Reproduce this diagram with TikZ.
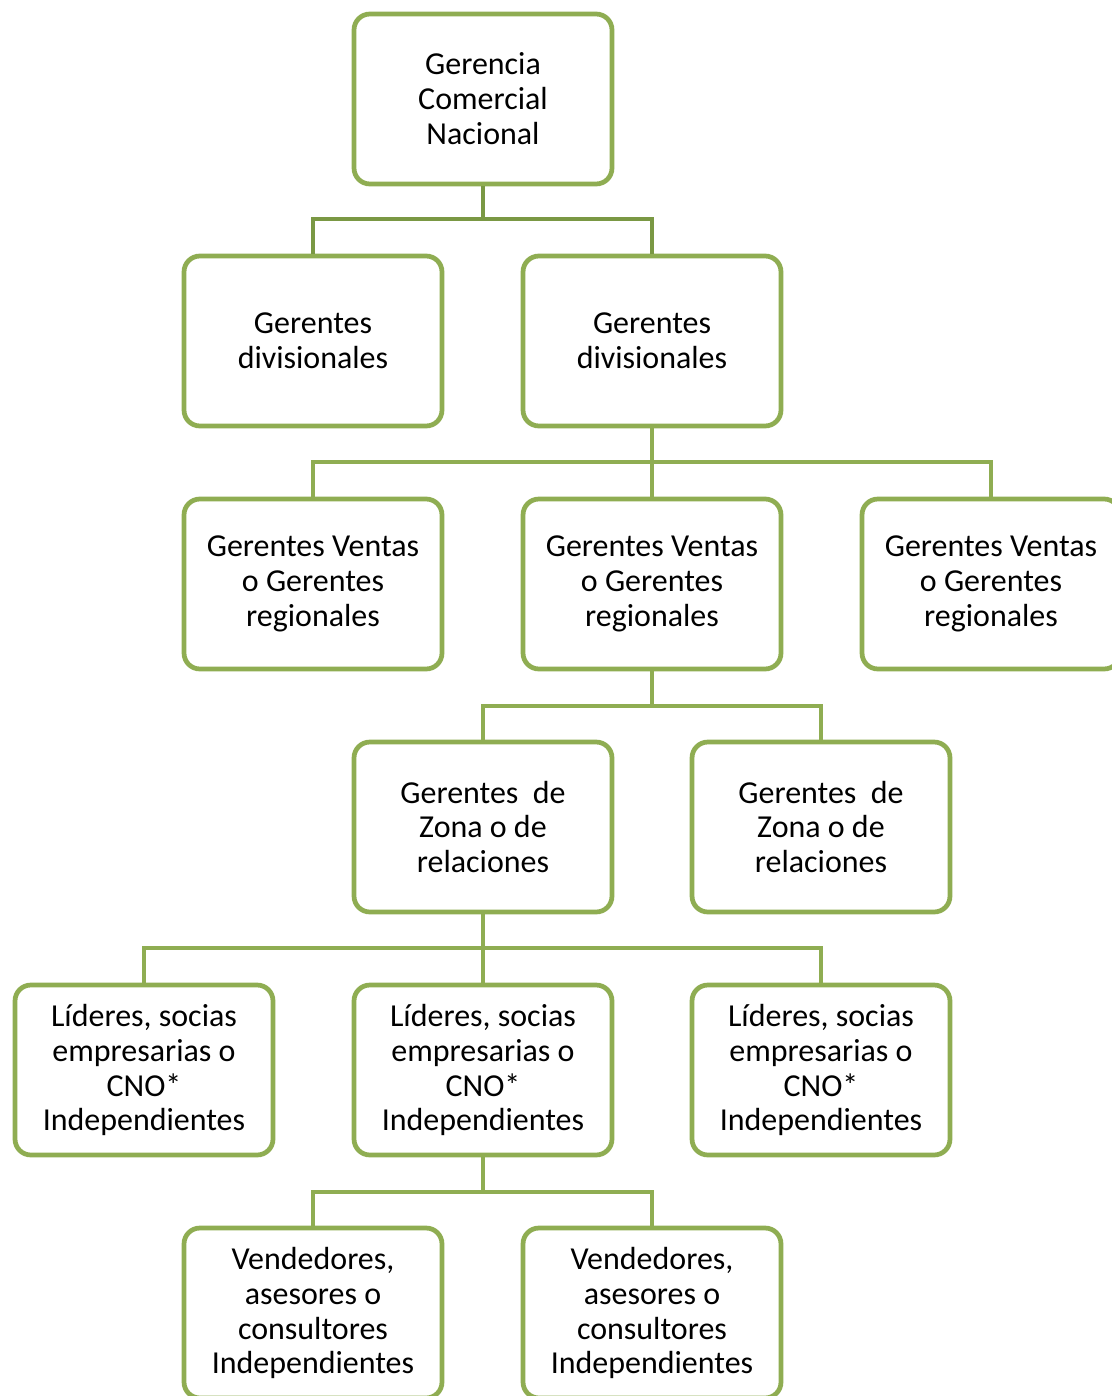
\documentclass[tikz,border=0pt]{standalone}
\usepackage{fontspec}
\setmainfont{Carlito}
\usetikzlibrary{positioning, calc}
\definecolor{orggreen}{RGB}{143,173,82}
\definecolor{orgdark}{RGB}{122,152,68}

\begin{document}
\begin{tikzpicture}[x=0.02cm, y=-0.02cm,
        box/.style={draw=orggreen, line width=2.7pt, fill=white, rounded corners=9pt,
                    minimum width=5.16cm, minimum height=3.4cm, inner sep=0pt,
                    align=center, font=\fontsize{18.2}{19.9}\selectfont},
        link/.style={draw=orggreen, line width=2.7pt},
        toplink/.style={draw=orgdark, line width=2.7pt}
      ]
        \useasboundingbox (0,0) rectangle (1112,1396);
        \node[box] (gcn) at (483,99) {Gerencia\\Comercial\\Nacional};
        \node[box] (div1) at (313,341) {Gerentes\\divisionales};
        \node[box] (div2) at (652,341) {Gerentes\\divisionales};
        \node[box] (reg1) at (313,584) {Gerentes Ventas\\o Gerentes\\regionales};
        \node[box] (reg2) at (652,584) {Gerentes Ventas\\o Gerentes\\regionales};
        \node[box] (reg3) at (991,584) {Gerentes Ventas\\o Gerentes\\regionales};
        \node[box] (zona1) at (483,827) {Gerentes\ \ de\\Zona o de\\relaciones};
        \node[box] (zona2) at (821,827) {Gerentes\ \ de\\Zona o de\\relaciones};
        \node[box] (lid1) at (144,1070) {Líderes, socias\\empresarias o\\CNO*\\Independientes};
        \node[box] (lid2) at (483,1070) {Líderes, socias\\empresarias o\\CNO*\\Independientes};
        \node[box] (lid3) at (821,1070) {Líderes, socias\\empresarias o\\CNO*\\Independientes};
        \node[box] (vend1) at (313,1313) {Vendedores,\\asesores o\\consultores\\Independientes};
        \node[box] (vend2) at (652,1313) {Vendedores,\\asesores o\\consultores\\Independientes};
        % connectors
        \draw[toplink] (gcn.south) -- (gcn.south |- 0,219) -| (div1.north);
        \draw[toplink] (gcn.south) -- (gcn.south |- 0,219) -| (div2.north);
        \draw[link] (div2.south) -- (div2.south |- 0,462) -| (reg1.north);
        \draw[link] (div2.south) -- (reg2.north);
        \draw[link] (div2.south) -- (div2.south |- 0,462) -| (reg3.north);
        \draw[link] (reg2.south) -- (reg2.south |- 0,706) -| (zona1.north);
        \draw[link] (reg2.south) -- (reg2.south |- 0,706) -| (zona2.north);
        \draw[link] (zona1.south) -- (zona1.south |- 0,948) -| (lid1.north);
        \draw[link] (zona1.south) -- (lid2.north);
        \draw[link] (zona1.south) -- (zona1.south |- 0,948) -| (lid3.north);
        \draw[link] (lid2.south) -- (lid2.south |- 0,1192) -| (vend1.north);
        \draw[link] (lid2.south) -- (lid2.south |- 0,1192) -| (vend2.north);
      \end{tikzpicture}
\end{document}
